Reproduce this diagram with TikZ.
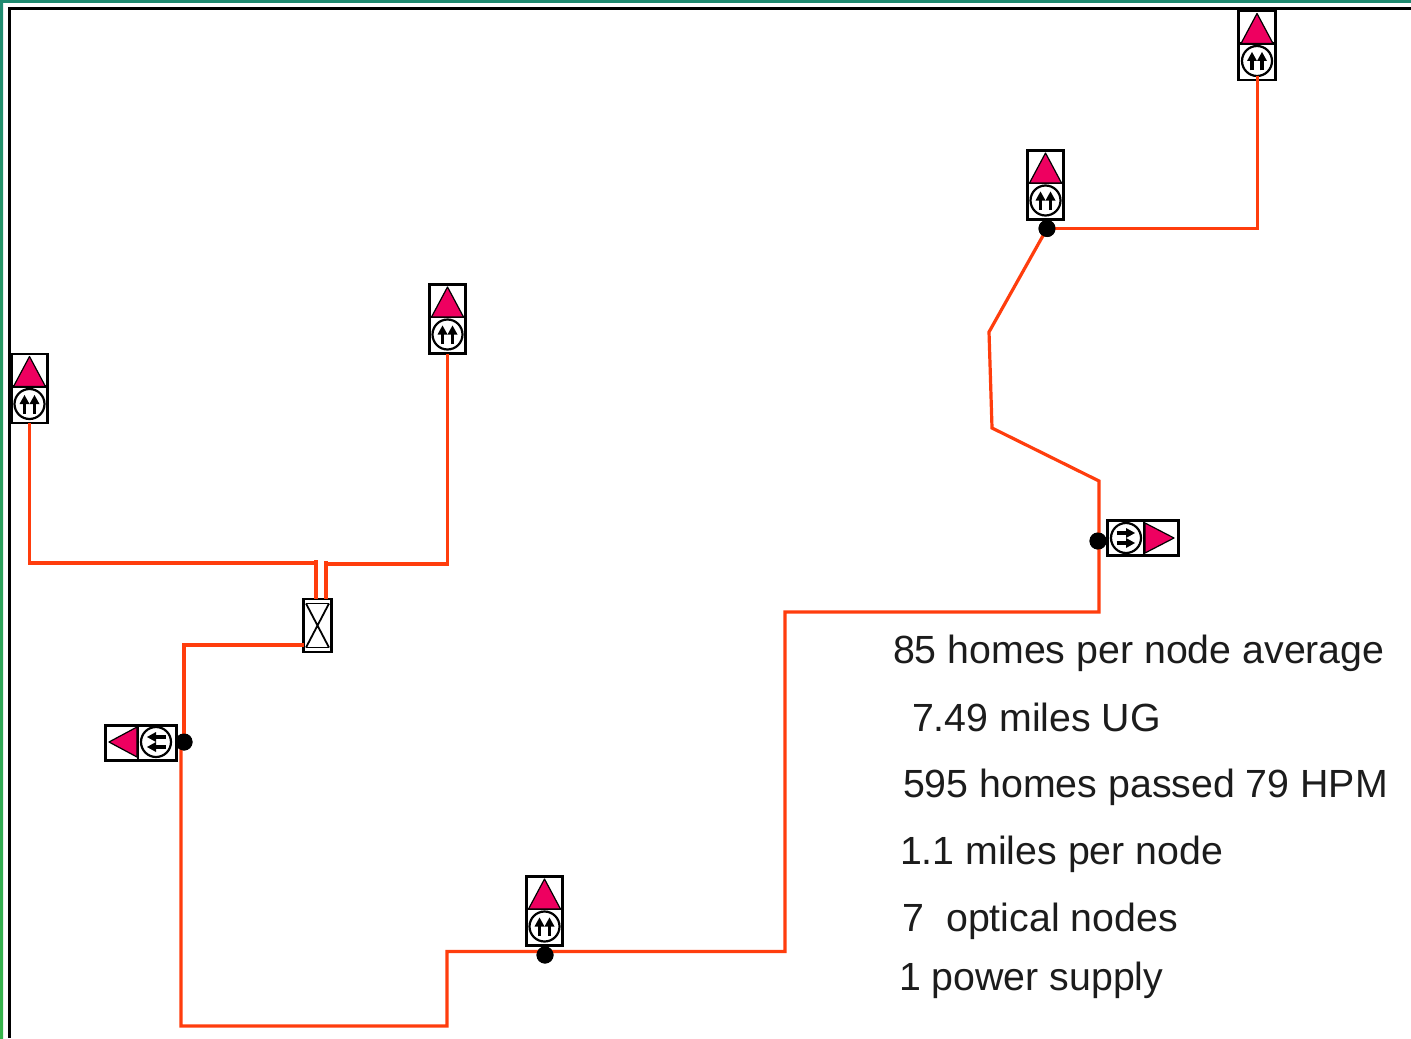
\documentclass[tikz,border=0pt]{standalone}
\usepackage{fontspec}
\setmainfont{Liberation Sans}
\definecolor{cable}{HTML}{FF3D0D}
\definecolor{tri}{HTML}{EE0060}
\definecolor{teal}{HTML}{1F8A70}
\definecolor{leaf}{HTML}{36B34A}
\definecolor{ink}{HTML}{1C1C1C}
\tikzset{
  x=0.5pt,y=-0.5pt,
  unitbox/.style={draw=black,line width=1.4pt,fill=white,inner sep=0pt,outer sep=0pt},
  ampbox/.style={unitbox,minimum width=18.25pt,minimum height=34.5pt},
  sidebox/.style={unitbox,minimum width=35.5pt,minimum height=17.75pt},
  splitbox/.style={unitbox,minimum width=14pt,minimum height=26.5pt},
  cableline/.style={draw=cable,line width=1.6pt,line join=miter},
  tap/.style={circle,fill=black,draw=none,minimum size=8.5pt,inner sep=0pt,outer sep=0pt},
  tritop/.style={fill=tri,draw=black,line width=0.6pt,line join=round},
  ring/.style={fill=white,draw=black,line width=1.1pt},
  label/.style={anchor=base west,inner sep=0pt,outer sep=0pt,text=ink,font=\fontsize{19.65pt}{22pt}\selectfont}
}
% twin arrows, drawn pointing up, then rotated
\newcommand{\twinarrows}[2]{%
  \begin{scope}[shift={(#1)},rotate=#2]
    \foreach \s in {-5,5}{
      \draw[black,line width=1.9pt] (\s,9.5) -- (\s,-1);
      \fill[black] (\s,-9) -- (\s+5,0) -- (\s-5,0) -- cycle;
    }
  \end{scope}}
% vertical amplifier: triangle above, ring below
\newcommand{\upamp}[3]{%
  \node[ampbox] (#1) at (#2,#3) {};
  \draw[line width=1.1pt] (#2-18,#3-2) -- (#2+18,#3-2);
  \filldraw[tritop] (#2,#3-32) -- (#2+16,#3-2) -- (#2-16,#3-2) -- cycle;
  \draw[ring] (#2,#3+15.5) circle (15);
  \twinarrows{#2,#3+15.5}{0}}
\begin{document}
\begin{tikzpicture}
\useasboundingbox (0,0) rectangle (1411,1038);
\fill[white] (0,0) rectangle (1411,1038);
% window frame
\shade[top color=teal,bottom color=leaf] (0,0) rectangle (3,1038);
\fill[teal] (0,0) rectangle (1411,3.5);
\draw[black,line width=1.4pt] (9.5,1038) -- (9.5,8.5) -- (1411,8.5);

% units
\upamp{ampA}{1257}{45.5}
\upamp{ampB}{1045.5}{185}
\upamp{ampC}{447.5}{319}
\upamp{ampD}{29.5}{388.5}
\upamp{ampE}{544.5}{911}

\node[sidebox] (ampR) at (1143,538) {};
\draw[line width=1.1pt] (1144,520) -- (1144,556);
\filldraw[tritop] (1174,538) -- (1145,553) -- (1145,523) -- cycle;
\draw[ring] (1126,538) circle (15);
\twinarrows{1126,538}{-90}

\node[sidebox] (ampL) at (141,743) {};
\draw[line width=1.1pt] (138,725) -- (138,761);
\filldraw[tritop] (109,742) -- (137,727) -- (137,757) -- cycle;
\draw[ring] (156,742) circle (15);
\twinarrows{156,742}{90}

\node[splitbox] (split) at (317.5,625.5) {};
\draw[line width=0.9pt] (306,603.5) -- (329,603.5) (306,647.5) -- (329,647.5);
\draw[line width=0.9pt] (306,603.5) -- (329,647.5) (329,603.5) -- (306,647.5);

% taps
\node[tap] (tapB) at (1047,228.5) {};
\node[tap] (tapR) at (1098,541) {};
\node[tap] (tapL) at (184,742) {};
\node[tap] (tapE) at (545,955) {};

% cables
\draw[cableline] (ampA.south) ++(0.5,-4) -- (1257.5,228.5) -- (tapB.center);
\draw[cableline] (tapB.center) -- (989,332) -- (992,428) -- (1099,481) -- (1099,612) -- (785,612) -- (785,951.5) -- (447,951.5) -- (447,1026) -- (181,1026) -- (181,742) -- (tapL.center);
\draw[cableline] (tapL.center) -- (184,645) -- (split.west |- 0,645);
\draw[cableline] (ampD.south) -- (29.5,563) -- (316,563) -- (316,560) -- (316,599);
\draw[cableline] (ampC.south) -- (447.5,564) -- (326,564) -- (326,561) -- (326,599);
\node[tap] at (tapB.center) {};
\node[tap] at (tapR.center) {};
\node[tap] at (tapL.center) {};
\node[tap] at (tapE.center) {};

% caption
\node[label] (t1) at (893,663) {85 homes per node average};
\node[label] (t2) at (912,731) {7.49 miles UG};
\node[label] (t3) at (903,797) {595 homes passed 79 HPM};
\node[label] (t4) at (900,864) {1.1 miles per node};
\node[label] (t5) at (902.5,931) {7\ \ optical nodes};
\node[label] (t6) at (899,990) {1 power supply};
\end{tikzpicture}
\end{document}
